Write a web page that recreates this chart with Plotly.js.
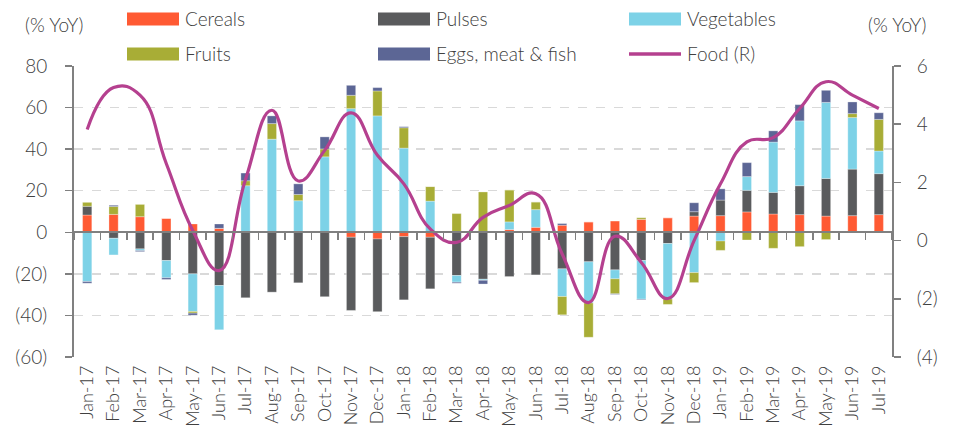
<!DOCTYPE html>
<html>
<head>
<meta charset="utf-8">
<script src="https://cdn.plot.ly/plotly-3.0.1.min.js"></script>
<style>html,body{margin:0;padding:0;background:#fff;}#chart{width:957px;height:433px;}</style>
</head>
<body>
<div id="chart"></div>
<script>
const months = ['Jan-17','Feb-17','Mar-17','Apr-17','May-17','Jun-17','Jul-17','Aug-17','Sep-17','Oct-17','Nov-17','Dec-17',
  'Jan-18','Feb-18','Mar-18','Apr-18','May-18','Jun-18','Jul-18','Aug-18','Sep-18','Oct-18','Nov-18','Dec-18',
  'Jan-19','Feb-19','Mar-19','Apr-19','May-19','Jun-19','Jul-19'];
const cereals = [8.3,8.6,7.5,6.7,4.0,1.9,0,0,0,0,-2.4,-3.2,
  -2.1,-2.4,0,0,1.3,2.4,3.4,5.0,5.4,6.2,7.0,7.8,
  8.0,9.8,8.8,8.5,7.8,8.0,8.5];
const pulses = [4.2,-2.9,-8.0,-13.6,-20,-25.6,-31.5,-28.8,-24.3,-31,-35.2,-35,
  -30.4,-24.8,-20.8,-22.6,-21.3,-20.5,-17.6,-14.2,-18.1,-13.6,-5.4,2.1,
  7.5,10.4,10.4,13.9,18.1,22.4,19.7];
const vegetables = [-23.7,-8.0,-0.8,-8.3,-18.1,-21.3,22.4,44.8,15.2,36.3,59.5,56,
  40.5,15,-3.2,-0.5,3.7,8.5,-13.3,-19.8,-4.3,-18.6,-26.7,-19.4,
  -4.2,6.6,24.2,31.2,36.6,24.8,10.9];
const fruits = [1.9,3.8,5.9,0,-0.8,0,2.4,7.5,3.0,3.8,6.4,12,
  9.8,7,9.0,19.4,15.4,3.7,-8.8,-16.5,-7.2,0.8,-2.6,-4.8,
  -4.5,-3.7,-7.7,-6.9,-3.5,1.9,15.2];
const eggs = [-0.8,0.6,-0.5,-0.8,-1.0,2.1,3.7,3.7,5.1,5.8,4.8,1.6,
  0.5,0,-0.5,-1.8,0,0,0.8,0,-0.3,-0.3,0,4.3,
  5.4,6.7,5.4,7.8,5.8,5.6,3.2];
const food = [3.82,5.26,5.0,2.64,0.35,-1.03,2.1,4.48,2.05,3.1,4.39,2.93,
  1.95,0.40,-0.06,0.80,1.21,1.61,-0.46,-2.13,0.15,-0.75,-1.99,0.0,
  1.95,3.39,3.54,4.54,5.46,5.0,4.54];
const leftTicks = [80,60,40,20,0,-20,-40,-60];
const leftLabels = ['80','60','40','20','0','(20)','(40)','(60)'];
const rightTicks = [6,4,2,0,-2,-4];
const rightLabels = ['6','4','2','0','(2)','(4)'];

const seriesNames = ['Cereals','Pulses','Vegetables','Fruits','Eggs, meat & fish','Food (R)'];
const colors = ['#FF5A33','#5A5B5D','#7DD2E7','#A8AD36','#5C6695','#B5408F'];
const barData = [cereals,pulses,vegetables,fruits,eggs];

const FONT = 'Lato, "Open Sans", sans-serif';
const TXT = '#404040';
const FS = 19;
const fnt = (s)=>({family:FONT, size:s, color:TXT, weight:300});

const traces = barData.map((vals,i)=>({
  type:'bar', x:months, y:vals, name:seriesNames[i],
  marker:{color:colors[i], line:{color:'rgba(255,255,255,0.6)', width:0.5}},
  showlegend:false, hoverinfo:'x+y+name'
}));
traces.push({
  type:'scatter', mode:'lines', x:months, y:food, name:seriesNames[5], yaxis:'y2',
  line:{color:colors[5], width:3.2, shape:'spline', smoothing:1.3}, showlegend:false
});
// helper trace for the zero-line category ticks
traces.push({type:'scatter', mode:'markers', x:months, y:months.map(()=>null), xaxis:'x2', yaxis:'y',
  showlegend:false, hoverinfo:'skip', marker:{opacity:0}});

// plot area in pixels
const L=74, R=892, T=66, B=357, W=957, H=433;
const px = x => (x-L)/(R-L);
const py = y => (B-y)/(B-T);

const shapes=[], annotations=[];
const colX=[127,378,629], rowY=[19,54];
seriesNames.forEach((n,i)=>{
  const c=i%3, r=Math.floor(i/3);
  const x0=colX[c], x1=x0+52, yc=rowY[r];
  if(i<5){
    shapes.push({type:'rect', xref:'paper', yref:'paper', x0:px(x0), x1:px(x1), y0:py(yc-6.5), y1:py(yc+6.5),
      fillcolor:colors[i], line:{width:0}});
  } else {
    shapes.push({type:'line', xref:'paper', yref:'paper', x0:px(x0), x1:px(x1), y0:py(yc), y1:py(yc),
      line:{color:colors[i], width:3.5}});
  }
  annotations.push({xref:'paper', yref:'paper', x:px(x1+4), y:py(yc), text:n, showarrow:false,
    xanchor:'left', yanchor:'middle', font:fnt(FS)});
});
annotations.push({xref:'paper', yref:'paper', x:px(54), y:py(24), text:'(% YoY)', showarrow:false,
  xanchor:'center', yanchor:'middle', font:fnt(FS)});
annotations.push({xref:'paper', yref:'paper', x:px(897), y:py(24), text:'(% YoY)', showarrow:false,
  xanchor:'center', yanchor:'middle', font:fnt(FS)});

const yMin=-60, yMax=80;
const layout = {
  width:W, height:H,
  margin:{l:L, r:W-R, t:T, b:H-B, pad:0},
  paper_bgcolor:'#fff', plot_bgcolor:'#fff',
  barmode:'relative', bargap:0.65,
  font:fnt(FS),
  showlegend:false,
  xaxis:{type:'category', range:[-0.5, months.length-0.5], tickangle:-90, ticks:'',
    showline:false, showgrid:false, zeroline:false, tickfont:fnt(18), ticklabelstandoff:4, automargin:false},
  xaxis2:{type:'category', overlaying:'x', anchor:'free', position:(0-yMin)/(yMax-yMin),
    range:[-0.5, months.length-0.5], tickson:'boundaries', ticks:'outside', ticklen:7, tickwidth:1.5,
    tickcolor:'#808080', showticklabels:false, showline:true, linecolor:'#808080', linewidth:2,
    showgrid:false, zeroline:false, layer:'above traces'},
  yaxis:{range:[yMin,yMax], tickvals:leftTicks, ticktext:leftLabels, ticks:'outside', ticklen:7,
    tickwidth:1.5, tickcolor:'#808080', showline:true, linecolor:'#808080', linewidth:2,
    showgrid:true, gridcolor:'#D9D9D9', gridwidth:1.5, griddash:'dash', zeroline:false,
    tickfont:fnt(FS), ticklabelstandoff:14, automargin:false},
  yaxis2:{overlaying:'y', side:'right', range:[-4,6], tickvals:rightTicks, ticktext:rightLabels,
    ticks:'outside', ticklen:7, tickwidth:1.5, tickcolor:'#808080', showline:true, linecolor:'#808080',
    linewidth:2, showgrid:false, zeroline:false, tickfont:fnt(FS),
    ticklabelstandoff:12, automargin:false},
  shapes:shapes, annotations:annotations
};
Plotly.newPlot('chart', traces, layout, {staticPlot:true, displayModeBar:false});
</script>
</body>
</html>
